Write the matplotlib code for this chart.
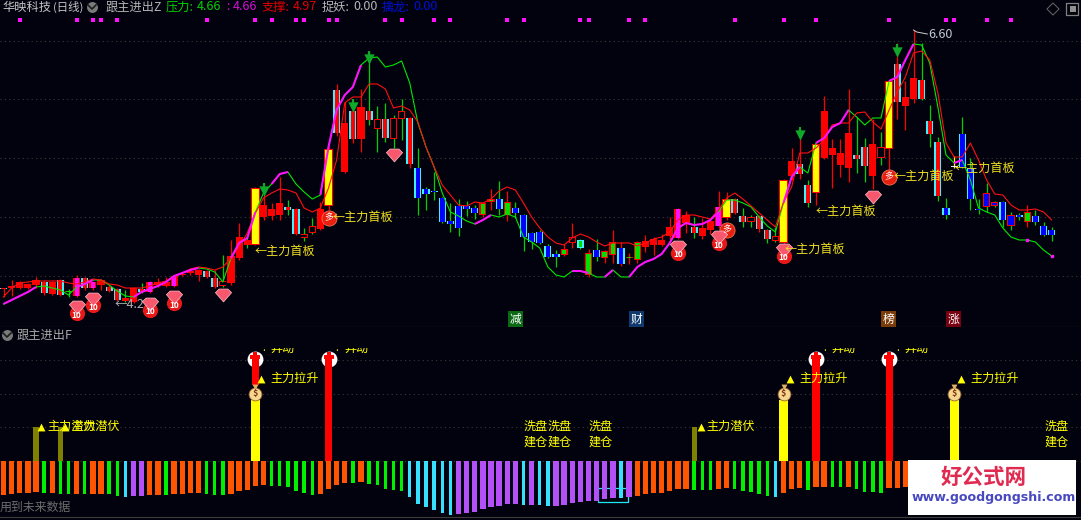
import matplotlib
matplotlib.use("Agg")
import matplotlib.pyplot as plt
import numpy as np
from matplotlib.patches import Rectangle
from matplotlib.path import Path

plt.rcParams['font.family'] = ['Noto Sans CJK SC', 'DejaVu Sans']

BG = '#02020e'
RED = '#ff0000'
GREEN = '#00e000'
CYAN = '#40f0ff'
BLUE = '#0000ff'
MAGENTA = '#ff10ff'
YELLOW = '#ffff00'
LABEL = '#f0e020'

# candle prices, in cents
body_top = [403, 405, 409, 407, 411, 409, 409, 411, 400, 413,
            413, 409, 411, 404, 402, 393, 403, 402, 409, 409,
            409, 415, 417, 420, 421, 420, 413, 410, 435, 454,
            451, 503, 486, 482, 488, 484, 482, 457, 465, 482,
            542, 601, 568, 580, 584, 580, 572, 572, 573, 580,
            573, 523, 502, 500, 493, 470, 485, 485, 483, 488,
            492, 492, 489, 483, 476, 458, 459, 445, 437, 442,
            454, 451, 438, 441, 440, 449, 443, 434, 449, 450,
            452, 451, 464, 482, 476, 464, 463, 470, 484, 492,
            492, 475, 474, 475, 461, 455, 511, 530, 527, 506,
            547, 580, 543, 538, 558, 536, 544, 547, 544, 610,
            627, 594, 613, 611, 570, 549, 483, 525, 557, 523,
            482, 498, 489, 489, 476, 476, 479, 475, 465, 461]
body_bot = [402, 403, 403, 403, 406, 398, 397, 396, 399, 395,
            403, 403, 406, 400, 391, 390, 389, 399, 399, 406,
            405, 405, 416, 418, 416, 414, 404, 405, 408, 433,
            446, 446, 474, 475, 476, 481, 457, 453, 458, 462,
            485, 558, 519, 552, 552, 571, 562, 553, 552, 572,
            527, 493, 497, 499, 469, 467, 463, 482, 478, 476,
            489, 482, 476, 478, 454, 449, 448, 434, 434, 436,
            448, 443, 416, 434, 433, 436, 427, 433, 431, 444,
            446, 446, 455, 453, 468, 458, 455, 461, 465, 473,
            478, 469, 469, 462, 452, 450, 448, 515, 517, 488,
            498, 533, 536, 526, 523, 532, 525, 515, 533, 542,
            589, 585, 592, 592, 557, 495, 476, 524, 524, 492,
            481, 484, 485, 471, 465, 474, 469, 469, 456, 456]
wick_hi = [403, 411, 410, 408, 414, 410, 410, 412, 402, 416,
           414, 410, 412, 406, 403, 401, 404, 408, 410, 413,
           414, 416, 418, 423, 422, 421, 421, 436, 451, 468,
           456, 504, 508, 488, 514, 491, 483, 463, 473, 489,
           544, 607, 589, 592, 602, 640, 585, 588, 576, 592,
           574, 543, 504, 519, 494, 488, 492, 490, 486, 489,
           502, 510, 500, 489, 477, 459, 461, 447, 441, 447,
           468, 452, 442, 452, 441, 461, 449, 438, 450, 456,
           454, 457, 474, 483, 480, 474, 473, 471, 500, 499,
           493, 483, 476, 476, 462, 464, 512, 543, 555, 511,
           548, 595, 552, 552, 602, 574, 553, 572, 559, 611,
           648, 610, 661, 648, 586, 554, 493, 535, 574, 533,
           492, 508, 490, 490, 479, 478, 486, 481, 469, 464]
wick_lo = [394, 395, 402, 402, 403, 396, 396, 395, 394, 394,
           401, 401, 401, 399, 390, 389, 388, 398, 398, 404,
           404, 404, 415, 416, 410, 413, 403, 404, 406, 431,
           443, 446, 471, 471, 471, 476, 456, 450, 457, 461,
           481, 555, 518, 548, 539, 566, 539, 549, 543, 551,
           523, 476, 481, 491, 468, 459, 455, 475, 472, 474,
           481, 476, 470, 473, 440, 442, 447, 433, 424, 435,
           443, 442, 414, 430, 428, 428, 425, 427, 428, 439,
           436, 445, 449, 452, 458, 453, 452, 457, 463, 471,
           477, 464, 464, 459, 448, 449, 447, 511, 512, 484,
           486, 532, 503, 514, 509, 518, 509, 502, 526, 522,
           572, 561, 588, 591, 544, 490, 472, 523, 523, 481,
           477, 479, 484, 464, 461, 471, 464, 466, 455, 450]
candle_kind = ("crrrrcrcgm" "cmrccrrcmr" "rmrrrcchrr" "ryrrrcchhr" "ycrcrchchh"
               "cbbbbbbbbg" "gbgbbbbbbg" "hkgbggbggr" "rrrmrcrrmy" "cchcchyrcc"
               "yrrrrccrhy" "crrcccbwbb" "bnnbnbgbbb")
wick_kind = ("RRRRRRRRGR" "RRRRRGRGRR" "RRRRRRRGRR" "GRRRRGRGGR" "RRRRRGGGGG"
             "RGGGGGGGGR" "RGRGGGGGGR" "RGRGRRRRRR" "RRRRRGRRRR" "RGGRGGRRRG"
             "RRRRRGGRGR" "RRRGGGGYGG" "GGGGGGRGGG")

# pressure / support lines, in cents
line_green = [387, 391, 395, 399, 404, 405, 403, 401, 396, 404,
              407, 411, 411, 406, 400, 395, 394, 399, 402, 405,
              409, 415, 418, 421, 423, 422, 419, 409, 433, 448,
              453, 479, 498, 507, 517, 519, 507, 499, 492, 496,
              544, 581, 596, 604, 626, 633, 634, 624, 626, 630,
              608, 568, 544, 524, 498, 479, 475, 470, 467, 471,
              476, 474, 477, 474, 454, 449, 443, 424, 416, 414,
              420, 420, 418, 414, 414, 421, 414, 414, 424, 429,
              432, 437, 448, 463, 468, 466, 467, 471, 479, 491,
              491, 488, 484, 474, 465, 459, 488, 514, 524, 518,
              548, 553, 564, 568, 581, 574, 566, 573, 573, 610,
              614, 631, 647, 646, 628, 584, 536, 528, 531, 511,
              483, 479, 476, 463, 454, 451, 451, 449, 441, 435]
line_red = [394, 403, 408, 409, 410, 410, 410, 410, 408, 407,
            409, 412, 411, 407, 406, 403, 403, 403, 405, 408,
            410, 414, 418, 422, 424, 423, 421, 424, 433, 444,
            458, 478, 493, 498, 502, 501, 498, 483, 479, 483,
            503, 531, 588, 594, 594, 607, 607, 602, 583, 585,
            581, 569, 544, 524, 506, 496, 486, 485, 489, 488,
            492, 500, 504, 501, 488, 474, 463, 454, 448, 446,
            453, 457, 454, 449, 445, 448, 448, 448, 445, 448,
            452, 454, 459, 471, 476, 476, 474, 472, 481, 493,
            498, 492, 485, 478, 471, 464, 489, 504, 538, 538,
            543, 551, 566, 568, 568, 578, 579, 569, 562, 581,
            599, 614, 638, 640, 631, 598, 548, 534, 534, 548,
            531, 511, 497, 496, 486, 481, 481, 482, 479, 471]
# stretches of the green line that turn magenta
rising_spans = [(0, 4), (9, 11), (16, 24), (28, 31), (33, 35), (39, 44), (58, 60),
                (70, 72), (74, 75), (77, 88), (96, 98), (100, 104), (109, 112),
                (117, 118), (126, 126), (129, 129)]

top_dots = [2, 9, 11, 12, 14, 25, 31, 33, 36, 37, 40, 41, 47, 49, 53, 55, 62, 64,
            71, 72, 77, 79, 90, 96, 100, 109, 116, 117, 121, 124]

gem_idx = [9, 11, 18, 21, 27, 48, 83, 88, 96, 107]
gem_price = [384, 392, 387, 394, 396, 536, 444, 454, 441, 494]
gem_ball = [1, 1, 1, 1, 0, 0, 1, 1, 1, 0]
duo_idx = [40, 89, 109]
duo_price = [473, 461, 514]
arrow_idx = [32, 43, 45, 98, 110]
arrow_price = [500, 584, 632, 556, 639]

board_idx = [30.95, 40.55, 96.1, 100.0, 109.5, 117.1]
board_price = [440, 474, 442, 480, 515, 523]

tag_text = ['减', '财', '榜', '涨']
tag_idx = [63, 77.9, 108.9, 116.9]
tag_color = ['#0a6a14', '#103a6e', '#7a3c0a', '#780010']

# lower panel: oscillator depth and colour for each visible day
osc_depth = [34, 33, 32, 32, 31, 32, 32, 33, 33, 33,
             33, 33, 33, 33, 35, 36, 35, 35, 34, 34,
             34, 33, 33, 32, 32, 33, 34, 34, 33, 30,
             29, 25, 24, 25, 25, 26, 30, 32, 34, 33,
             28, 24, 22, 22, 21, 23, 24, 28, 29, 30,
             36, 43, 46, 49, 52, 54, 53, 52, 51, 48,
             46, 45, 43, 43, 44, 44, 44, 45, 45, 44,
             42, 41, 40, 40, 38, 37, 37, 36, 35, 33,
             32, 32, 30, 28, 28, 29, 29, 29, 28, 27,
             28, 30, 31, 33, 35, 36, 32, 28, 27, 29,
             26, 26, 26, 26, 26, 28, 31, 31, 32, 27,
             27, 26]
osc_kind = ("OOOOOGOGGO" "GOOGGCPPOO" "GOOOOGGGOO" "OOOGGGGGGO" "OOOGOGGGGG"
            "CCCCCCPPPP" "PPPPCPCCPP" "PPPPPPCPOO" "OOOOOGGGOO" "GGGGGCOOOG"
            "OOGGOGGGGO" "OO")
osc_color = {'O': '#ff5500', 'G': '#00f000', 'C': '#38e0ff', 'P': '#b450f8'}
osc_width = {'O': 0.66, 'G': 0.42, 'C': 0.42, 'P': 0.66}

ambush_idx = [4, 7, 85]
ambush_val = [34, 34, 34]
lift_idx = [31, 96, 117]
lift_val = [61, 61, 61]
surge_idx = [40, 100, 109]
surge_val = [102, 102, 102]
surge_first_idx = 31
surge_first_lo = 76
wash_idx = [64.0, 67.0, 72.0, 128.1]

fig = plt.figure(figsize=(10.81, 5.20), dpi=100, facecolor=BG)
ax = fig.add_axes([0, 1 - 326 / 520, 1, 326 / 520], facecolor=BG)
ax2 = fig.add_axes([0, 1 - 517 / 520, 1, 190 / 520], facecolor=BG)
xlim = (-3.5 / 8.125, (1081 - 3.5) / 8.125)

for a in (ax, ax2):
    a.set_xlim(xlim)
    a.set_xticks([])
    a.set_yticks([])
    for s in a.spines.values():
        s.set_visible(False)
ax.set_ylim(3.65, 6.91)
ax2.set_ylim(-56.5, 133.5)
ax2.spines['top'].set_visible(True)
ax2.spines['bottom'].set_visible(True)
ax2.spines['top'].set_color('#3c3c3c')
ax2.spines['bottom'].set_color('#3c3c3c')

for y in [6.50, 5.92, 5.33, 4.74, 4.15]:
    ax.axhline(y, color='#3a3a3a', lw=0.8, ls=(0, (1, 3)), zorder=1)
for y in [0, 34, 67, 101]:
    ax2.axhline(y, color='#3a3a3a', lw=0.8, ls=(0, (1, 3)), zorder=1)

# candles: outer colour, inner colour
kinds = {'r': (RED, RED), 'h': (RED, BG), 'c': (CYAN, RED), 'b': (CYAN, BLUE),
         'g': (RED, GREEN), 'k': (CYAN, GREEN), 'm': (RED, MAGENTA),
         'y': (RED, YELLOW), 'n': (RED, BLUE), 'w': ('#e8e8ff', '#e8e8ff')}
inner_w = {'r': 0.5, 'h': 0.66, 'c': 0.5, 'b': 0.58, 'g': 0.58, 'k': 0.45, 'm': 0.5,
           'y': 0.8, 'n': 0.66, 'w': 0.5}
wick_col = {'R': RED, 'G': '#00d000', 'Y': YELLOW}
for i in range(len(body_top)):
    top = body_top[i] / 100
    bot = body_bot[i] / 100
    k = candle_kind[i]
    ax.vlines(i, wick_lo[i] / 100, wick_hi[i] / 100, color=wick_col[wick_kind[i]], lw=0.9, zorder=2)
    width = 1.05 if k == 'y' else 0.88
    ax.bar(i, top - bot, bottom=bot, width=width, color=kinds[k][0], zorder=3)
    inset = 0.012 if k in 'hgnky' and top - bot > 0.03 else 0
    ax.bar(i, top - bot - 2 * inset, bottom=bot + inset, width=inner_w[k],
           color=kinds[k][1], zorder=3)

days = np.arange(len(line_green))
green_y = np.array(line_green) / 100
ax.plot(days, green_y, color='#00e800', lw=0.8, zorder=4)
ax.plot(days, np.array(line_red) / 100, color='#ff1010', lw=0.8, zorder=4)
for a, b in rising_spans:
    if a == b:
        ax.plot(a, green_y[a], 's', color=MAGENTA, ms=1.7, zorder=5)
    else:
        ax.plot(days[a:b + 1], green_y[a:b + 1], color=MAGENTA, lw=1.5, zorder=5,
                solid_capstyle='butt')

ax.scatter(top_dots, [6.71] * len(top_dots), marker='s', s=5, color=MAGENTA, lw=0, zorder=5)

# gem icon as a small closed path
gem_path = Path([(-1, 0.35), (-0.55, 0.8), (0.55, 0.8), (1, 0.35), (0, -0.8), (-1, 0.35)])
gem_x = np.array(gem_idx)
gem_y = np.array(gem_price) / 100
balls = np.array(gem_ball) == 1
ax.scatter(gem_x[balls], gem_y[balls] - 0.06, s=120, color='#e81818', lw=0, zorder=6)
for x, y in zip(gem_x[balls], gem_y[balls]):
    ax.text(x, y - 0.08, '10', color='white', fontsize=6, ha='center', va='center',
            fontweight='bold', zorder=8)
ax.scatter(gem_x, gem_y, marker=gem_path, s=135, color='#f8586e', edgecolor='#ffc0c8',
           lw=0.5, zorder=7)

ax.scatter(duo_idx, np.array(duo_price) / 100, s=120, color='#e82010', edgecolor='#ff8060',
           lw=0.5, zorder=6)
for x, y in zip(duo_idx, duo_price):
    ax.text(x, y / 100, '多', color='white', fontsize=6.5, ha='center', va='center', zorder=7)

for x, y in zip(arrow_idx, arrow_price):
    ax.vlines(x, y / 100, y / 100 + 0.08, color='#10a828', lw=1.6, zorder=6)
ax.scatter(arrow_idx, np.array(arrow_price) / 100, marker='v', s=55, color='#10a828',
           lw=0, zorder=6)

for x, y in zip(board_idx, board_price):
    ax.text(x, y / 100, '←主力首板', color=LABEL, fontsize=8.7, ha='left', va='center', zorder=8)
ax.text(13.7, 3.87, '←4.25', color='#b0b0b0', fontsize=9, ha='left', va='center', zorder=5)
ax.text(113.8, 6.57, '6.60', color='#c0c8d0', fontsize=9, ha='left', va='center', zorder=8)
ax.plot([112, 112.4, 113.7], [6.61, 6.59, 6.57], color='#d0d0d0', lw=0.7, zorder=8)

for t, x, c in zip(tag_text, tag_idx, tag_color):
    ax.text(x, 3.72, t, color='white', fontsize=8.5, ha='center', va='center', zorder=8,
            bbox=dict(facecolor=c, edgecolor='none', pad=1))

# lower panel
osc_x = np.arange(len(osc_depth))
ax2.bar(osc_x, -np.array(osc_depth), width=[osc_width[k] for k in osc_kind],
        color=[osc_color[k] for k in osc_kind], zorder=3)
ax2.add_patch(Rectangle((73.2, -41.5), 3.7, 14.5, fill=False, edgecolor='#20e8f0', lw=0.9, zorder=2))

ax2.bar(ambush_idx, ambush_val, width=0.62, color='#808000', zorder=3)
ax2.bar(lift_idx, lift_val, width=1.1, color=YELLOW, zorder=3)

surge_x = surge_idx + [surge_first_idx]
ax2.scatter(surge_x, [102] * 4, s=130, color='white', lw=0, zorder=4)
ax2.bar(surge_idx, surge_val, width=0.88, color=RED, zorder=5)
ax2.bar(surge_first_idx, 102 - surge_first_lo, bottom=surge_first_lo, width=0.88, color=RED, zorder=5)
ax2.scatter(surge_x, [104] * 4, marker='P', s=45, color=RED, lw=0, zorder=5)
for x in surge_x:
    ax2.text(x + 0.85, 112.5, ':', color=YELLOW, fontsize=7, ha='left', va='center', zorder=4)
    ax2.text(x + 1.9, 112.5, '异动', color=YELLOW, fontsize=8.7, ha='left', va='center', zorder=4)
ax2.axhspan(112.5, 133.5, color=BG, zorder=6, lw=0)

# money bag on top of the yellow bars
ax2.scatter(lift_idx, [67] * 3, s=85, color='#f4d890', edgecolor='#a06030', lw=0.6, zorder=6)
ax2.scatter(lift_idx, [74] * 3, marker='v', s=18, color='#e0b060', lw=0, zorder=6)
for x in lift_idx:
    ax2.text(x, 67, '$', color='#803010', fontsize=6.5, fontweight='bold', ha='center',
             va='center', zorder=7)

ambush_mark = [4.6, 7.6, 85.8]
ax2.scatter(ambush_mark, [34] * 3, marker='^', s=32, color=YELLOW, lw=0, zorder=6)
for x in ambush_mark:
    ax2.text(x + 0.75, 34, '主力潜伏', color=YELLOW, fontsize=8.7, ha='left', va='center', zorder=7)

lift_mark = [31.7, 96.8, 117.8]
ax2.scatter(lift_mark, [82] * 3, marker='^', s=32, color=YELLOW, lw=0, zorder=6)
for x in lift_mark:
    ax2.text(x + 1.2, 82, '主力拉升', color=YELLOW, fontsize=8.7, ha='left', va='center', zorder=7)

for x in wash_idx:
    ax2.text(x, 34, '洗盘', color=YELLOW, fontsize=8.7, ha='left', va='center', zorder=7)
    ax2.text(x, 18, '建仓', color=YELLOW, fontsize=8.7, ha='left', va='center', zorder=7)


def px_text(x, y, s, color, size=9.0, **kw):
    fig.text(x / 1081, 1 - y / 520, s, color=color, fontsize=size, ha='left', va='center',
             zorder=9, **kw)


def title_icon(x, y):
    ax2.scatter([x / 1081], [1 - y / 520], s=62, color='#7a7a7a', lw=0, zorder=9,
                transform=fig.transFigure, clip_on=False)
    ax2.plot([(x - 4) / 1081, x / 1081, (x + 4) / 1081],
             [1 - (y - 2) / 520, 1 - (y + 2) / 520, 1 - (y - 2) / 520],
             color='#1c1c1c', lw=1.2, zorder=10, transform=fig.transFigure, clip_on=False)


# header
px_text(2, 7, '华映科技', '#c4c4c4', 8.8)
px_text(53, 7, '(日线)', '#c4c4c4', 8.2)
title_icon(92, 7)
px_text(106, 7, '跟主进出Z', '#b4b4b4', 8.8)
px_text(166, 7, '压力:', '#00d000', 8.8)
px_text(197, 7, '4.66', '#00d000', 9)
px_text(226, 7, ':', '#d010d0', 9)
px_text(233, 7, '4.66', '#d010d0', 9)
px_text(262, 7, '支撑:', '#e00000', 8.8)
px_text(293, 7, '4.97', '#e00000', 9)
px_text(322, 7, '捉妖:', '#b8b8b8', 8.8)
px_text(353, 7, '0.00', '#b8b8b8', 9)
px_text(382, 7, '擒龙:', '#0010d8', 8.8)
px_text(413, 7, '0.00', '#0010d8', 9)

title_icon(7, 335)
px_text(17, 335, '跟主进出F', '#a8a8a8', 8.8)
px_text(0, 507, '用到未来数据', '#6c6c6c', 8.6)

ax2.scatter([1053 / 1081], [1 - 9 / 520], marker='D', s=38, facecolor='none', edgecolor='#666666',
            lw=0.7, zorder=9, transform=fig.transFigure, clip_on=False)
ax2.scatter([1072 / 1081], [1 - 9 / 520], marker='s', s=75, facecolor='none', edgecolor='#808080',
            lw=0.9, zorder=9, transform=fig.transFigure, clip_on=False)
ax2.scatter([1072.5 / 1081], [1 - 9 / 520], marker='s', s=14, facecolor='#909090', lw=0, zorder=9,
            transform=fig.transFigure, clip_on=False)

# site watermark
fig.add_artist(Rectangle((908 / 1081, 1 - 515 / 520), 168 / 1081, 55 / 520,
                         transform=fig.transFigure, facecolor='white', edgecolor='none', zorder=8))
fig.text(984 / 1081, 1 - 477 / 520, '好公式网', color='#e02a50', fontsize=15.5, fontweight='bold',
         ha='center', va='center', zorder=9)
fig.text(993.5 / 1081, 1 - 498 / 520, 'www.goodgongshi.com', color='#4848c0', fontsize=9.1,
         fontweight='bold', family='DejaVu Sans', ha='center', va='center', zorder=9)

fig.savefig('out.png', dpi=100, facecolor=BG)
